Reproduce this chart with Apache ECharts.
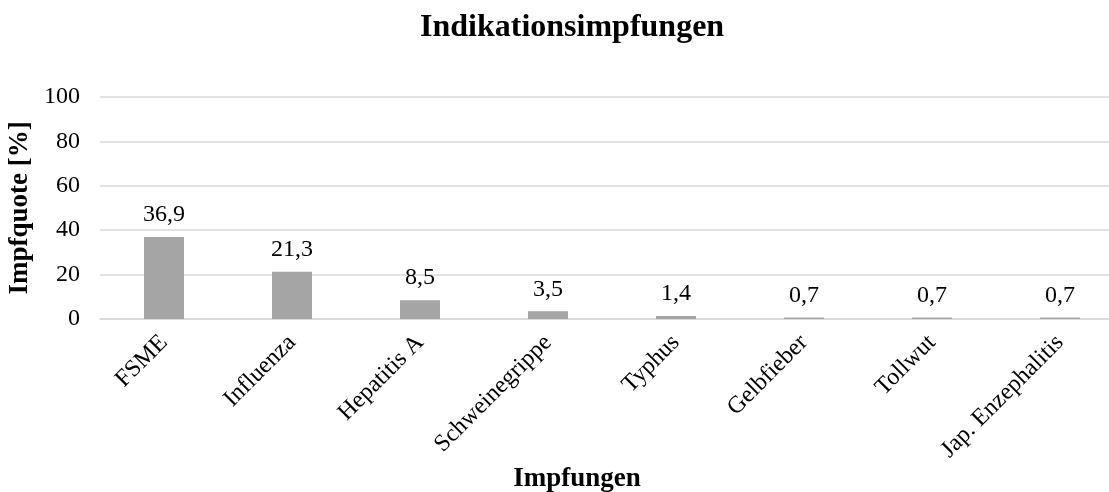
<!DOCTYPE html>
<html>
<head>
<meta charset="utf-8">
<script src="https://cdn.jsdelivr.net/npm/echarts@6/dist/echarts.min.js"></script>
<style>
  html, body { margin: 0; padding: 0; background: #fff; }
  #chart { width: 1109px; height: 492px; }
</style>
</head>
<body>
<div id="chart"></div>
<script>
var categories = ['FSME', 'Influenza', 'Hepatitis A', 'Schweinegrippe', 'Typhus', 'Gelbfieber', 'Tollwut', 'Jap. Enzephalitis'];
var quote = [36.9, 21.3, 8.5, 3.5, 1.4, 0.7, 0.7, 0.7];

var font = '"Liberation Serif", "Times New Roman", serif';
var chart = echarts.init(document.getElementById('chart'));
chart.setOption({
  animation: false,
  textStyle: { fontFamily: font },
  title: {
    text: 'Indikationsimpfungen',
    left: 415,
    top: 7,
    textStyle: { fontFamily: font, fontWeight: 'bold', fontSize: 32, color: '#000' }
  },
  // plot area runs a little past the right edge, as in the source image
  grid: { left: 100, right: -15, top: 97, bottom: 173, outerBoundsMode: 'none', containLabel: false },
  xAxis: {
    type: 'category',
    data: categories,
    name: 'Impfungen',
    nameLocation: 'middle',
    nameGap: 145,
    nameTextStyle: { fontFamily: font, fontWeight: 'bold', fontSize: 27, color: '#000', padding: [0, 70, 0, 0] },
    axisLine: { lineStyle: { color: '#d9d9d9', width: 1.5 } },
    axisTick: { show: false },
    axisLabel: { rotate: 45, margin: 20, fontSize: 24, color: '#000', fontFamily: font, interval: 0 }
  },
  yAxis: {
    type: 'value',
    min: 0,
    max: 100,
    interval: 20,
    name: 'Impfquote [%]',
    nameLocation: 'middle',
    nameGap: 62,
    nameTextStyle: { fontFamily: font, fontWeight: 'bold', fontSize: 27, color: '#000' },
    axisLine: { show: false },
    axisTick: { show: false },
    axisLabel: { fontSize: 24, color: '#000', fontFamily: font, margin: 20 },
    splitLine: { lineStyle: { color: '#d9d9d9', width: 1.5 } }
  },
  series: [{
    type: 'bar',
    data: quote,
    barWidth: 40,
    itemStyle: { color: '#a5a5a5' },
    label: {
      show: true,
      position: 'top',
      distance: 10,
      fontSize: 24,
      color: '#000',
      fontFamily: font,
      formatter: function (p) { return p.value.toFixed(1).replace('.', ','); }
    }
  }]
});
</script>
</body>
</html>
